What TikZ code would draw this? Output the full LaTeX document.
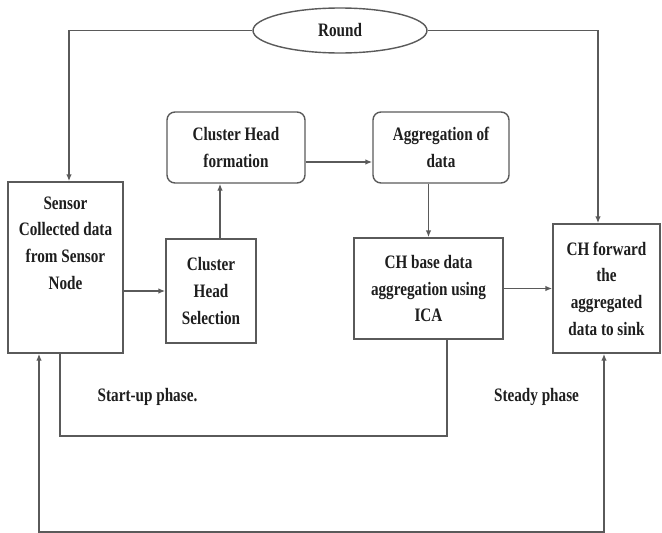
\documentclass[tikz,border=0pt]{standalone}
\usepackage{fontspec}
\setmainfont{Liberation Serif}[FakeStretch=0.8]
\definecolor{linegray}{HTML}{5A5A5A}
\definecolor{inkdark}{HTML}{1E1E1E}
\usetikzlibrary{shapes.geometric,arrows.meta,positioning,calc}
\tikzset{
  box/.style={draw=linegray,line width=1.4pt,rectangle,inner sep=0pt,align=center,text=inkdark},
  softbox/.style={box,rounded corners=8pt},
  txt/.style={align=center,text=inkdark,inner sep=0pt},
  link/.style={draw=linegray,line width=1.4pt},
  flow/.style={link,-{Latex[length=7pt,width=5.5pt]}}
}

\begin{document}
\begin{tikzpicture}[x=1pt,y=-1pt,font=\fontsize{19}{26.7}\selectfont\bfseries]
    \useasboundingbox (0,0) rectangle (662,533);
    \node[ellipse,draw=linegray,line width=1.4pt,minimum width=174pt,minimum height=45pt,inner sep=0pt,text=inkdark] (round) at (340,30.5) {Round};
    \node[box,minimum width=115pt,minimum height=171pt] (sensor) at (65.5,267.5) {};
    \node[txt] (sensortext) at (65.5,243) {Sensor\\Collected data\\from Sensor\\Node};
    \node[box,minimum width=90pt,minimum height=104pt] (chsel) at (211,291) {Cluster\\Head\\Selection};
    \node[softbox,minimum width=138pt,minimum height=71pt] (chform) at (236,147.5) {Cluster Head\\formation};
    \node[softbox,minimum width=136pt,minimum height=71pt] (aggr) at (441,147.5) {Aggregation of\\data};
    \node[box,minimum width=149pt,minimum height=101pt] (chbase) at (428.5,288.5) {CH base data\\aggregation using\\ICA};
    \node[box,minimum width=107pt,minimum height=129pt] (chfwd) at (606.5,288.5) {CH forward\\the\\aggregated\\data to sink};
    \node[txt] (startup) at (147.5,397) {Start-up phase.};
    \node[txt] (steady) at (536.5,397) {Steady phase};
    % loop corners
    \coordinate (innercorner) at (60,436);
    \coordinate (outerleft) at (39,532);
    \coordinate (outerright) at (604,532);
    % round
    \draw[flow] (round.west) -| ([xshift=3.5pt]sensor.north);
    \draw[flow] (round.east) -| ([xshift=-8.5pt]chfwd.north);
    % main flow
    \draw[flow] (sensor.east |- chsel) -- (chsel);
    \draw[flow] ([xshift=9pt]chsel.north) -- ([xshift=9pt]chsel.north |- chform.south);
    \draw[flow] ([yshift=-14.5pt]chform.east) -- ([yshift=-14.5pt]chform.east -| aggr.west);
    \draw[flow] (aggr.south -| chbase.north) -- (chbase.north);
    \draw[flow] (chbase.east) -- (chbase.east -| chfwd.west);
    % phases
    \draw[link] ([xshift=18.5pt]chbase.south) |- (innercorner) -- (innercorner |- sensor.south);
    \draw[link,{Latex[length=7pt,width=5.5pt]}-{Latex[length=7pt,width=5.5pt]}] (outerleft |- sensor.south) -- (outerleft) -- (outerright) -- (outerright |- chfwd.south);
\end{tikzpicture}
\end{document}
